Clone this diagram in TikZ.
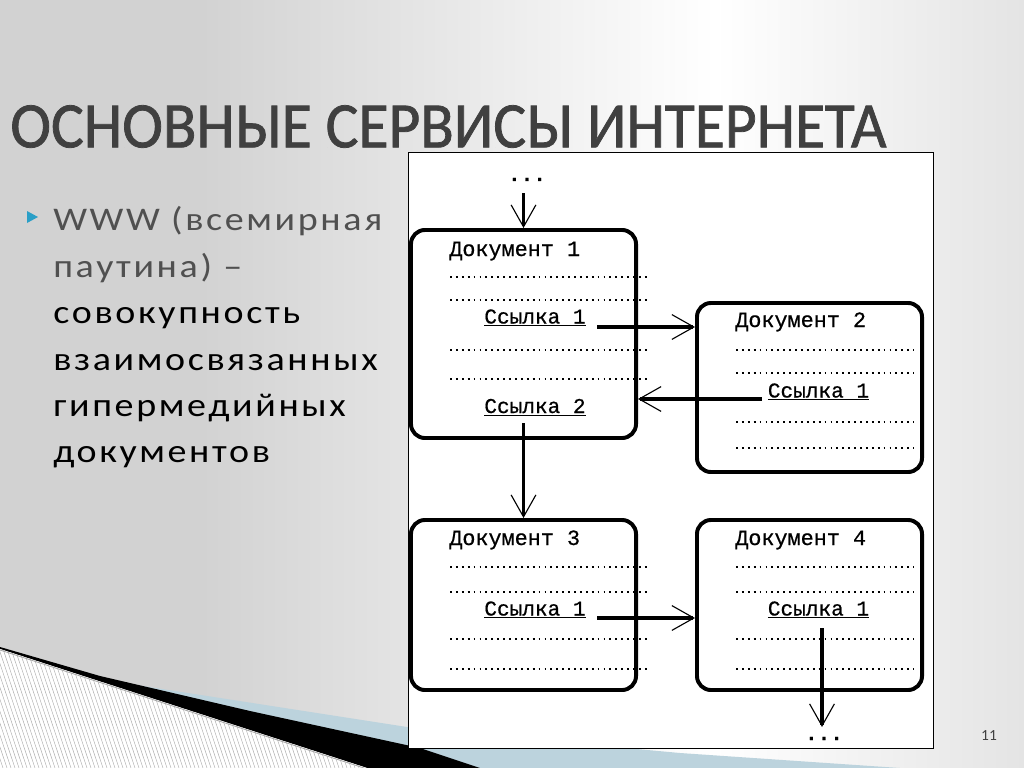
\documentclass[tikz,border=0pt]{standalone}
\usepackage{fontspec}
\setmainfont{Carlito}
\newfontfamily\bodyfont[FakeStretch=1.15, LetterSpace=8]{Carlito}
\newfontfamily\titlefont[FakeBold=1.2]{Carlito}
\newfontfamily\docfont[FakeBold=0.6]{Liberation Mono}
\usetikzlibrary{arrows.meta,positioning}

\definecolor{bgleft}{HTML}{D2D2D2}
\definecolor{bgright}{HTML}{E4E4E4}
\definecolor{titlegray}{HTML}{404040}
\definecolor{textgray}{HTML}{505050}
\definecolor{bulletblue}{HTML}{2A9FC7}
\definecolor{bandblue}{HTML}{BCD3DD}
\definecolor{stripegray}{HTML}{A8A8A8}

\pgfdeclarehorizontalshading{slidebg}{100bp}{color(0bp)=(bgleft); color(34.8bp)=(bgleft); color(59.9bp)=(white); color(75bp)=(bgright); color(100bp)=(bgright)}

\tikzset{
  docbox/.style={draw, line width=2.8pt, rounded corners=0.35cm, minimum width=5.625cm, inner sep=0pt},
  doctitle/.style={font=\docfont\fontsize{15.5}{15.5}\selectfont, anchor=base west, inner sep=0pt},
  doclink/.style={font=\docfont\fontsize{15}{15}\selectfont, anchor=base, inner sep=0pt},
  dotrow/.style={line width=1.4pt, dash pattern=on 1.3pt off 2.9pt},
  link/.style={line width=2.8pt, -{Straight Barb[length=0.55cm, width=0.62cm, line width=0.8pt]}},
  bodyline/.style={font=\bodyfont\fontsize{23.5}{23.5}\selectfont, anchor=base west, inner sep=0pt},
}

\begin{document}
\begin{tikzpicture}[x=0.025cm, y=-0.025cm]
\useasboundingbox (0,0) rectangle (1024,768);
\shade[shading=slidebg] (0,0) rectangle (1024,768);

% bottom left corner
\fill[bandblue] (130,684) -- (420,729) -- (680,753) -- (900,768) -- (470,768) -- cycle;
\fill[black] (0,647) -- (100,676) -- (250,711) -- (420,748) -- (480,768) -- (367,768) -- (0,649) -- cycle;
\fill[white] (0,649) -- (367,768) -- (0,768) -- cycle;
\begin{scope}
\clip (0,649) -- (367,768) -- (0,768) -- cycle;
\foreach \i in {-60,-56,...,380}
  \draw[stripegray, line width=0.3pt] (\i,640) -- (\i+43,768);
\end{scope}
\draw[stripegray, line width=0.6pt] (0,650) -- (367,769);

% title
\node[anchor=north west, inner sep=0pt, text=titlegray] (title) at (10,105)
  {\resizebox{623pt}{29.9pt}{\titlefont ОСНОВНЫЕ СЕРВИСЫ ИНТЕРНЕТА}};

% left text
\fill[bulletblue] (27,211) -- (38,217) -- (27,223) -- cycle;
\node[bodyline, text=textgray] (l1) at (53,230) {WWW (всемирная};
\node[bodyline, text=textgray] (l2) at (53,277) {паутина) –};
\node[bodyline] (l3) at (53,323) {совокупность};
\node[bodyline] (l4) at (53,370) {взаимосвязанных};
\node[bodyline] (l5) at (53,416) {гипермедийных};
\node[bodyline] (l6) at (53,462) {документов};

% diagram frame
\draw[fill=white, line width=0.7pt] (408,152) rectangle (933,748);

% documents
\node[docbox, minimum height=5.2cm] (doc1) at (523.5,334) {};
\node[docbox, minimum height=4.225cm] (doc2) at (809.5,387.5) {};
\node[docbox, minimum height=4.25cm] (doc3) at (523.5,605) {};
\node[docbox, minimum height=4.25cm] (doc4) at (809.5,605) {};

\node[doctitle] (t1) at (449,256) {Документ 1};
\node[doctitle] (t2) at (735,327) {Документ 2};
\node[doctitle] (t3) at (449,545) {Документ 3};
\node[doctitle] (t4) at (735,545) {Документ 4};

\foreach \y in {277,300,350,379}
  \draw[dotrow] (450,\y) -- (647,\y);
\foreach \y in {350,373,422,448}
  \draw[dotrow] (736,\y) -- (914,\y);
\foreach \y in {567,592,639,669} {
  \draw[dotrow] (450,\y) -- (647,\y);
  \draw[dotrow] (736,\y) -- (914,\y);
}

\node[doclink] (s11) at (535,323.5) {\underline{Ссылка 1}};
\node[doclink] (s12) at (535,413) {\underline{Ссылка 2}};
\node[doclink] (s21) at (818.5,397.5) {\underline{Ссылка 1}};
\node[doclink] (s31) at (535,615.5) {\underline{Ссылка 1}};
\node[doclink] (s41) at (818.5,615.5) {\underline{Ссылка 1}};

\node[doclink, font=\docfont\bfseries\fontsize{15}{15}\selectfont] (more1) at (527,181) {...};
\node[doclink, font=\docfont\bfseries\fontsize{15}{15}\selectfont] (more4) at (824,740) {...};

% links
\coordinate (a0) at (523.5,193);
\coordinate (a1) at (597,327);
\coordinate (a2) at (762,399);
\coordinate (a3) at (523.5,423);
\coordinate (a4) at (597,618);
\coordinate (a5) at (822,628);
\coordinate (a6) at (822,727);
\draw[link] (a0) -- (doc1.north);
\draw[link] (a1) -- (a1 -| doc2.west);
\draw[link] (a2) -- (a2 -| doc1.east);
\draw[link] (a3) -- (doc3.north);
\draw[link] (a4) -- (a4 -| doc4.west);
\draw[link] (a5) -- (a6);

\node[text=black!75, font=\fontsize{11}{11}\selectfont] (page) at (989,736) {11};
\end{tikzpicture}
\end{document}
